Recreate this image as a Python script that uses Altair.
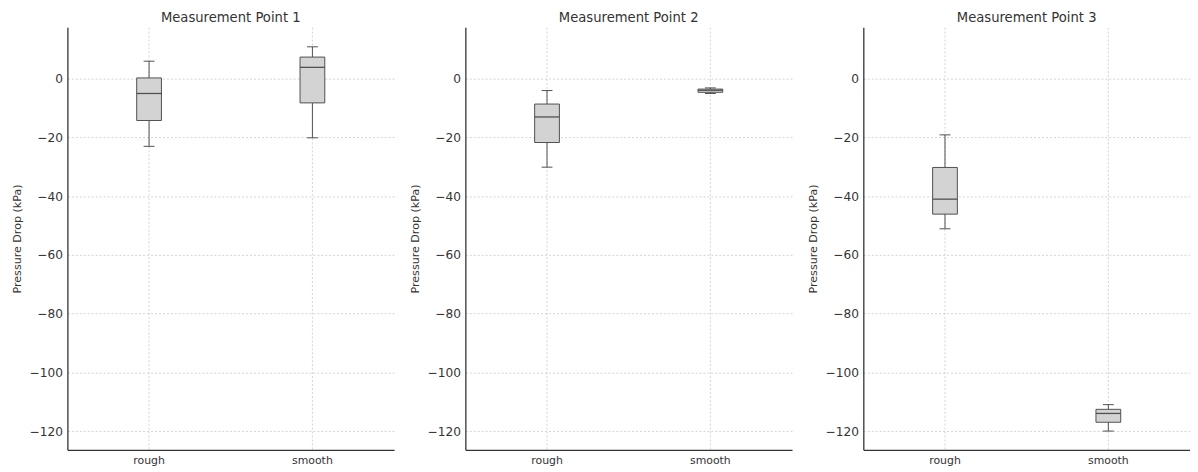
import altair as alt
import pandas as pd

panel_titles = ["Measurement Point 1", "Measurement Point 2", "Measurement Point 3"]
surfaces = ["rough", "smooth"]
whisker_low = [[-23.0, -20.1], [-30.1, -5.0], [-51.1, -120.0]]
box_q1 = [[-14.2, -8.2], [-21.7, -4.6], [-46.1, -117.0]]
box_median = [[-5.0, 3.9], [-13.0, -3.9], [-41.0, -114.0]]
box_q3 = [[0.3, 7.4], [-8.6, -3.5], [-30.2, -112.6]]
whisker_high = [[6.0, 10.9], [-4.0, -3.1], [-19.1, -111.0]]
y_ticks = [0, -20, -40, -60, -80, -100, -120]
y_domain = [-126.4, 17.6]

FONT = "DejaVu Sans"
LINE = "#505050"


def Y(field):
    return alt.Y(
        field,
        scale=alt.Scale(domain=y_domain, nice=False, zero=False),
        axis=alt.Axis(
            title="Pressure Drop (kPa)",
            values=y_ticks,
            format="d",
            grid=True,
            gridColor="#c8c8c8",
            gridDash=[2, 2],
            gridWidth=0.8,
            ticks=False,
            labelPadding=5,
            labelFontSize=12.3,
            labelColor="#333333",
            titleFontSize=11.2,
            titleFontWeight="normal",
            titleColor="#333333",
            titlePadding=7,
            domainColor="#333333",
            domainWidth=1.3,
        ),
    )


def panel(i):
    df = pd.DataFrame(
        {
            "surface": surfaces,
            "lo": whisker_low[i],
            "q1": box_q1[i],
            "median": box_median[i],
            "q3": box_q3[i],
            "hi": whisker_high[i],
        }
    )
    base = alt.Chart(df).encode(
        x=alt.X(
            "surface:N",
            sort=surfaces,
            scale=alt.Scale(paddingInner=0, paddingOuter=0),
            axis=alt.Axis(
                title=None,
                labelAngle=0,
                bandPosition=0.5,
                grid=True,
                gridColor="#c8c8c8",
                gridDash=[2, 2],
                gridWidth=0.8,
                ticks=False,
                labelPadding=5,
                labelFontSize=11,
                labelColor="#333333",
                domainColor="#333333",
                domainWidth=1.3,
            ),
        )
    )
    whisk = base.mark_rule(color=LINE, strokeWidth=1).encode(y=Y("lo:Q"), y2="hi:Q")
    cap_lo = base.mark_tick(size=11, thickness=1, color=LINE, opacity=1).encode(y=Y("lo:Q"))
    cap_hi = base.mark_tick(size=11, thickness=1, color=LINE, opacity=1).encode(y=Y("hi:Q"))
    box = base.mark_bar(size=25, fill="#d3d3d3", stroke=LINE, strokeWidth=1).encode(
        y=Y("q1:Q"), y2="q3:Q"
    )
    med = base.mark_tick(size=25, thickness=1.3, color=LINE, opacity=1).encode(y=Y("median:Q"))
    return alt.layer(whisk, cap_lo, cap_hi, box, med).properties(
        width=330,
        height=427,
        title=alt.TitleParams(
            panel_titles[i],
            fontSize=13.3,
            fontWeight="normal",
            color="#333333",
            baseline="bottom",
            offset=-11,
            anchor="middle",
        ),
    )


chart = (
    alt.hconcat(*[panel(i) for i in range(3)], spacing=15)
    .properties(padding={"left": 3, "top": 0, "right": 0, "bottom": 0})
    .configure(font=FONT)
    .configure_view(stroke=None)
)

chart.save("out.html", embed_options={"renderer": "svg", "actions": False})
